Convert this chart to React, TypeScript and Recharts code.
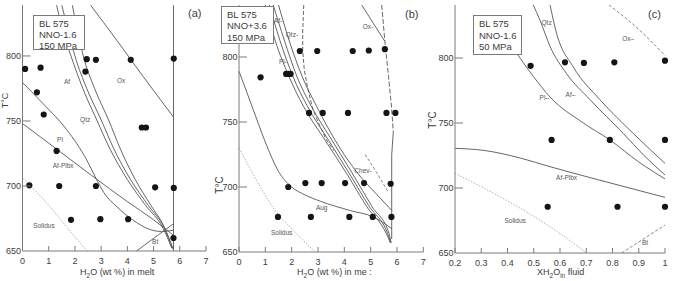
import React from 'react';
import { ComposedChart, Line, Scatter, XAxis, YAxis } from 'recharts';

// ---- panel (a): BL 575, NNO-1.6, 150 MPa  (x = H2O wt% in melt, t = T °C)
const ptsA = [
  [0.1, 790], [0.69, 791], [2.4, 788], [2.45, 797.5], [2.8, 797], [4.13, 797], [5.77, 798],
  [0.55, 772], [0.81, 755], [4.55, 745], [4.71, 745], [1.3, 727],
  [0.26, 700.5], [1.4, 700], [2.8, 700], [5.06, 699], [5.77, 698.5],
  [1.85, 674], [2.97, 674.5], [4.03, 674.5], [5.76, 660],
];
const solidusA = [[0, 706], [0.5, 696], [1.05, 684], [1.7, 668], [2.47, 650]];
const plA = [[0, 779.5], [0.8, 763], [1.7, 743], [2.45, 720], [2.8, 706], [3.1, 695], [3.6, 684], [4.2, 674], [4.8, 667], [5.3, 665], [5.76, 666]];
const afPlA = [[0, 748], [1, 733], [2.64, 708], [4, 688], [5, 674], [5.76, 662]];
const afA = [[1.3, 839], [1.6, 815], [1.85, 800], [2.3, 775], [2.85, 750], [3.3, 730], [4.0, 705], [4.7, 685], [5.35, 668], [5.7, 652]];
const qtzA = [[1.5, 839], [1.8, 815], [2.0, 800], [2.45, 775], [3.02, 750], [3.45, 730], [4.12, 705], [4.8, 685], [5.4, 668], [5.72, 652]];
const qtz2A = [[1.9, 839], [2.15, 815], [2.32, 800], [2.75, 775], [3.3, 750], [3.7, 730], [4.3, 705], [4.9, 685], [5.42, 668], [5.74, 652]];
const oxA = [[2.6, 839], [3.6, 812], [4.61, 784], [5.76, 753]];
const satA = [[5.76, 650], [5.76, 839]];
const btA = [[4.35, 650], [5.76, 671]];
const labelsA = [
  { x: 1.7, t: 780, name: 'Af' }, { x: 2.39, t: 751, name: 'Qtz' }, { x: 3.76, t: 781, name: 'Ox' },
  { x: 1.43, t: 735, name: 'Pl' }, { x: 1.55, t: 715, name: 'Af-Plbx' }, { x: 0.82, t: 669, name: 'Solidus' },
  { x: 5.06, t: 657, name: 'Bt' },
];

// ---- panel (b): BL 575, NNO+3.6, 150 MPa
const ptsB = [
  [2.31, 804.6], [2.97, 804.6], [4.32, 804.6], [4.93, 805], [5.54, 806],
  [0.82, 784.4], [1.79, 787], [1.87, 787], [1.96, 787],
  [2.66, 757], [3.18, 757], [4.14, 757], [5.6, 757], [5.94, 757],
  [1.87, 700], [2.52, 703], [3.14, 703], [4.03, 703], [4.75, 703], [5.76, 702.5],
  [1.48, 677], [2.73, 677], [4.19, 677], [5.08, 677], [5.79, 677],
];
const solidusB = [[0, 730], [0.73, 703], [1.37, 682], [2.0, 668], [2.89, 650]];
const augB = [[0, 789], [0.35, 770], [0.73, 749], [1.05, 732], [1.5, 712], [2.0, 700], [2.5, 694], [3.1, 689], [4.2, 682], [5.1, 677], [5.8, 668]];
const b1 = [[1.0, 840], [1.37, 813], [1.9, 785], [2.45, 762], [3.27, 736], [4.1, 710], [4.85, 685], [5.6, 664], [5.75, 657]];
const b2 = [[1.15, 840], [1.55, 813], [2.05, 785], [2.6, 762], [3.4, 736], [4.2, 710], [4.95, 685], [5.65, 664], [5.77, 657]];
const b3 = [[1.3, 840], [1.72, 813], [2.2, 785], [2.75, 762], [3.53, 736], [4.32, 710], [5.05, 685], [5.7, 664], [5.78, 657]];
const b4 = [[1.5, 840], [1.9, 813], [2.4, 785], [2.95, 762], [3.65, 736], [4.53, 710], [5.2, 695], [5.8, 682]];
const qtzB = [[2.46, 840], [2.42, 820], [2.42, 805], [2.48, 790], [2.62, 775], [2.8, 760], [3.05, 748], [3.3, 737], [3.6, 728]];
const oxB = [[4.66, 840], [5.1, 826], [5.54, 812]];
const satTopB = [[5.42, 840], [5.54, 812], [5.68, 785], [5.8, 760], [5.86, 742]];
const satB = [[5.86, 742], [5.8, 725], [5.8, 660]];
const chevB = [[4.79, 725], [5.2, 712], [5.67, 696]];
const labelsB = [
  { x: 1.48, t: 828, name: 'Af-' }, { x: 2.01, t: 817, name: 'Qtz-' }, { x: 1.67, t: 796, name: 'Pl-' },
  { x: 4.9, t: 823, name: 'Ox-' }, { x: 4.71, t: 712, name: 'Chev-' }, { x: 3.14, t: 683.5, name: 'Aug' },
  { x: 1.62, t: 665, name: 'Solidus' },
];

// ---- panel (c): BL 575, NNO-1.6, 50 MPa  (x = XH2O in fluid)
const ptsC = [
  [0.488, 794], [0.619, 796.7], [0.691, 796.2], [0.807, 796.7], [1.0, 798],
  [0.568, 737], [0.79, 737], [1.0, 737],
  [0.553, 685.6], [0.819, 685.6], [1.0, 685.6],
];
const qtzC = [[0.498, 840.8], [0.524, 829], [0.562, 809], [0.625, 788], [0.714, 768], [0.841, 742], [0.92, 725], [1.0, 710]];
const afC = [[0.562, 840.8], [0.587, 819], [0.651, 793], [0.752, 768], [0.879, 742], [1.0, 719]];
const plC = [[0.42, 808], [0.498, 786], [0.562, 770], [0.689, 750], [0.79, 737], [0.9, 720], [1.0, 707]];
const afPlC = [[0.2, 730.5], [0.308, 729], [0.45, 723], [0.562, 716.4], [0.752, 706], [1.0, 692.8]];
const solidusC = [[0.2, 711.3], [0.371, 693.3], [0.562, 670.2], [0.702, 650]];
const btC = [[0.835, 650], [1.0, 671.5]];
const oxC = [[0.787, 840.8], [0.9, 822], [1.0, 802]];
const labelsC = [
  { x: 0.549, t: 827, name: 'Qtz' }, { x: 0.86, t: 815, name: 'Ox–' }, { x: 0.54, t: 769, name: 'Pl–' },
  { x: 0.64, t: 771.5, name: 'Af–' }, { x: 0.625, t: 708, name: 'Af-Plbx' }, { x: 0.429, t: 675, name: 'Solidus' },
  { x: 0.924, t: 657.5, name: 'Bt' },
];

const tTicks = [650, 700, 750, 800];
const h2oTicks = [0, 1, 2, 3, 4, 5, 6, 7];
const xfTicks = [0.2, 0.3, 0.4, 0.5, 0.6, 0.7, 0.8, 0.9, 1];

const FONT = '"Liberation Sans", Arial, Helvetica, sans-serif';
const INK = '#3c3c3c';
const FRAME = '#7a7a7a';
const CURVE = '#555';
const SOL = '#9a9a9a';
const H = 281;

const xy = (a: number[][]) => a.map(([x, t]) => ({ x, t }));

const LeftTick = (p: any) => (
  <g>
    {p.payload.value !== 650 && <line x1={p.x} x2={p.x + 8} y1={p.y} y2={p.y} stroke={FRAME} />}
    <text x={p.x - 1.5} y={p.y + 3.2} textAnchor="end" fontSize={9} fill={INK} fontFamily={FONT}>{p.payload.value}</text>
  </g>
);
const RightTick = (p: any) =>
  p.payload.value === 650 ? <g /> : <line x1={p.x} x2={p.x - 8} y1={p.y} y2={p.y} stroke={FRAME} />;
const BottomTick = (p: any) => (
  <g>
    <line x1={p.x} x2={p.x} y1={p.y} y2={p.y - 5} stroke={FRAME} />
    <text x={p.x} y={p.y + 12.5} textAnchor="middle" fontSize={9} fill={INK} fontFamily={FONT}>{p.payload.value}</text>
  </g>
);
const TopTick = (p: any) => <line x1={p.x} x2={p.x} y1={p.y} y2={p.y + 5} stroke={FRAME} />;

const dotShape = (p: any) => <circle cx={p.cx} cy={p.cy} r={3.1} fill="#151515" />;
const labelShape = (p: any) => (
  <text x={p.cx} y={p.cy + 2} textAnchor="middle" fontSize={6.5} fill="#555" fontFamily={FONT}>{p.payload.name}</text>
);

function curve(d: number[][], key: string, opts: { dash?: string; color?: string; type?: any; w?: number } = {}) {
  return (
    <Line
      key={key}
      data={xy(d)}
      dataKey="t"
      type={opts.type || 'monotone'}
      stroke={opts.color || CURVE}
      strokeWidth={opts.w || 0.9}
      strokeDasharray={opts.dash}
      dot={false}
      activeDot={false}
      legendType="none"
      isAnimationActive={false}
    />
  );
}

function Panel(props: {
  left: number; width: number; axisW: number; plotRight: number; bottomH: number;
  xDomain: number[]; xTicks: number[]; yDomain: number[]; children: React.ReactNode;
}) {
  const { left, width, axisW, plotRight, bottomH, xDomain, xTicks, yDomain } = props;
  return (
    <div style={{ position: 'absolute', left, top: 0 }}>
      <ComposedChart width={width} height={H} margin={{ top: 5, right: width - plotRight, bottom: 0, left: 0 }}>
        <XAxis dataKey="x" type="number" domain={xDomain} ticks={xTicks} interval={0} height={bottomH}
          tickSize={0} tickMargin={0} tick={BottomTick} tickLine={false} axisLine={{ stroke: FRAME }} />
        <XAxis xAxisId="top" orientation="top" type="number" domain={xDomain} ticks={xTicks} interval={0} height={0}
          tickSize={0} tickMargin={0} tick={TopTick} tickLine={false} axisLine={{ stroke: FRAME }} />
        <YAxis dataKey="t" type="number" domain={yDomain} ticks={tTicks} interval={0} width={axisW}
          tickSize={0} tickMargin={0} tick={LeftTick} tickLine={false} axisLine={{ stroke: FRAME }} />
        <YAxis yAxisId="right" orientation="right" type="number" domain={yDomain} ticks={tTicks} interval={0} width={0}
          tickSize={0} tickMargin={0} tick={RightTick} tickLine={false} axisLine={{ stroke: FRAME }} />
        {props.children}
      </ComposedChart>
    </div>
  );
}

const txt: React.CSSProperties = { position: 'absolute', fontFamily: FONT, color: INK, whiteSpace: 'nowrap', lineHeight: 1 };

function InfoBox({ left, top, w, h, lines, gap }: { left: number; top: number; w: number; h: number; lines: string[]; gap: number }) {
  return (
    <div style={{ position: 'absolute', left, top, width: w, height: h, background: '#fff', border: `1px solid ${FRAME}`, boxSizing: 'border-box' }}>
      {lines.map((s, i) => (
        <div key={s} style={{ ...txt, left: 5, top: 3 + i * gap, fontSize: 9.5 }}>{s}</div>
      ))}
    </div>
  );
}

function YTitle({ cx, cy, size = 10 }: { cx: number; cy: number; size?: number }) {
  return (
    <div style={{ ...txt, left: cx - 12, top: cy - size / 2, width: 24, textAlign: 'center', fontSize: size, transform: 'rotate(-90deg)' }}>T°C</div>
  );
}

export default function App() {
  return (
    <div style={{ position: 'absolute', left: 0, top: 0, width: 675, height: H, background: '#fff', overflow: 'hidden' }}>
      <Panel left={0} width={215} axisW={22.5} plotRight={206} bottomH={30} xDomain={[0, 7]} xTicks={h2oTicks} yDomain={[650, 839.2]}>
        {curve(solidusA, 'solA', { dash: '1.5 1.5', color: SOL, w: 0.8 })}
        {curve(plA, 'plA')}
        {curve(afPlA, 'afPlA')}
        {curve(afA, 'afA')}
        {curve(qtzA, 'qtzA')}
        {curve(qtz2A, 'qtz2A')}
        {curve(oxA, 'oxA')}
        {curve(satA, 'satA', { type: 'linear' })}
        {curve(btA, 'btA', { type: 'linear' })}
        <Scatter data={xy(ptsA)} dataKey="t" shape={dotShape} isAnimationActive={false} />
        <Scatter data={labelsA} dataKey="t" shape={labelShape} isAnimationActive={false} />
      </Panel>
      <Panel left={215} width={215} axisW={24} plotRight={208.3} bottomH={29} xDomain={[0, 7]} xTicks={h2oTicks} yDomain={[650, 840]}>
        {curve(solidusB, 'solB', { dash: '1.5 1.5', color: SOL, w: 0.8 })}
        {curve(augB, 'augB')}
        {curve(b1, 'b1')}
        {curve(b2, 'b2')}
        {curve(b3, 'b3')}
        {curve(b4, 'b4')}
        {curve(qtzB, 'qtzB', { type: 'linear', dash: '4 2' })}
        {curve(oxB, 'oxB')}
        {curve(satTopB, 'satTopB', { type: 'linear', dash: '5 2' })}
        {curve(satB, 'satB', { type: 'linear' })}
        {curve(chevB, 'chevB', { dash: '3 2', color: '#777' })}
        <Scatter data={xy(ptsB)} dataKey="t" shape={dotShape} isAnimationActive={false} />
        <Scatter data={labelsB} dataKey="t" shape={labelShape} isAnimationActive={false} />
      </Panel>
      <Panel left={430} width={245} axisW={25} plotRight={235} bottomH={28} xDomain={[0.2, 1]} xTicks={xfTicks} yDomain={[650, 840.8]}>
        {curve(solidusC, 'solC', { dash: '1.5 1.5', color: SOL, w: 0.8 })}
        {curve(afPlC, 'afPlC')}
        {curve(plC, 'plC')}
        {curve(qtzC, 'qtzC')}
        {curve(afC, 'afC')}
        {curve(btC, 'btC', { type: 'linear', dash: '3 2', color: '#777' })}
        {curve(oxC, 'oxC', { dash: '3 2', color: '#777' })}
        <Scatter data={xy(ptsC)} dataKey="t" shape={dotShape} isAnimationActive={false} />
        <Scatter data={labelsC} dataKey="t" shape={labelShape} isAnimationActive={false} />
      </Panel>

      <InfoBox left={33} top={15} w={52} h={35} lines={['BL 575', 'NNO-1.6', '150 MPa']} gap={10.8} />
      <InfoBox left={221} top={6} w={53} h={38} lines={['BL 575', 'NNO+3.6', '150 MPa']} gap={11.3} />
      <InfoBox left={473} top={15} w={49} h={40} lines={['BL 575', 'NNO-1.6', '50 MPa']} gap={11.5} />

      <div style={{ ...txt, left: 188, top: 8, fontSize: 11 }}>(a)</div>
      <div style={{ ...txt, left: 405, top: 9, fontSize: 11 }}>(b)</div>
      <div style={{ ...txt, left: 648, top: 9, fontSize: 11 }}>(c)</div>

      <YTitle cx={5} cy={100} size={9} />
      <YTitle cx={220} cy={185} />
      <YTitle cx={433} cy={120} />

      <div style={{ ...txt, left: 80, top: 268, fontSize: 9 }}>H<sub style={{ fontSize: 6.5 }}>2</sub>O (wt %) in melt</div>
      <div style={{ ...txt, left: 297, top: 268, fontSize: 9 }}>H<sub style={{ fontSize: 6.5 }}>2</sub>O (wt %) in me :</div>
      <div style={{ ...txt, left: 537, top: 268, fontSize: 9 }}>XH<sub style={{ fontSize: 6.5 }}>2</sub>O<sub style={{ fontSize: 6.5 }}>in</sub> fluid</div>
    </div>
  );
}
